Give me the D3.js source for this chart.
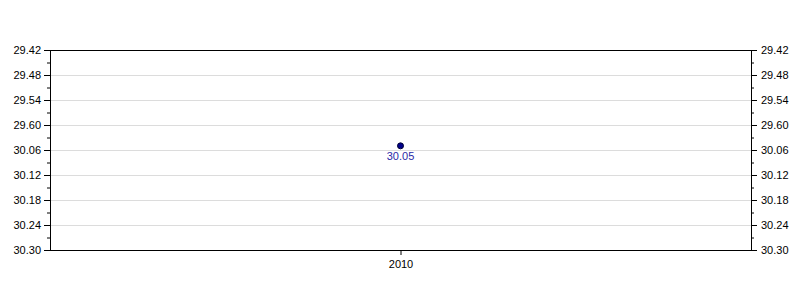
<!DOCTYPE html>
<html>
<head>
<meta charset="utf-8">
<script src="https://cdn.jsdelivr.net/npm/d3@7"></script>
<style>
  body { margin: 0; background: #fff; }
  text { font-family: "Liberation Sans", Arial, sans-serif; font-size: 11px; }
</style>
</head>
<body>
<svg id="chart"></svg>
<script>
const width = 800,
      height = 300;

// values are times in seconds, labelled as min.sec the way the source shows them
const years = ["2010"];
const times = [1805];
const pointLabels = ["30.05"];
const yTicks = [1782, 1788, 1794, 1800, 1806, 1812, 1818, 1824, 1830];
const yTickLabels = ["29.42", "29.48", "29.54", "29.60", "30.06", "30.12", "30.18", "30.24", "30.30"];

const margin = { top: 50, right: 49, bottom: 50, left: 50 };
const innerW = width - margin.left - margin.right,
      innerH = height - margin.top - margin.bottom;

const svg = d3.select("#chart")
  .attr("width", width)
  .attr("height", height);

const g = svg.append("g")
  .attr("transform", `translate(${margin.left},${margin.top})`);

const x = d3.scalePoint()
  .domain(years)
  .range([0, innerW])
  .padding(0.5);

const y = d3.scaleLinear()
  .domain([yTicks[0], yTicks[yTicks.length - 1]])
  .range([0, innerH]);

const minorTicks = d3.range(yTicks[0] + 3, yTicks[yTicks.length - 1], 6);
const labelOf = d => yTickLabels[yTicks.indexOf(d)];

// gridlines
g.append("g")
  .selectAll("line")
  .data(yTicks.slice(1, -1))
  .join("line")
  .attr("x1", 0)
  .attr("x2", innerW)
  .attr("y1", d => Math.round(y(d)) + 0.5)
  .attr("y2", d => Math.round(y(d)) + 0.5)
  .attr("stroke", "#dcdcdc");

// axes
function styleAxis(sel) {
  sel.select(".domain").remove();
  sel.selectAll("line").attr("stroke", "#000");
  sel.selectAll("text").attr("fill", "#000");
}

g.append("g")
  .call(d3.axisLeft(y).tickValues(yTicks).tickFormat(labelOf).tickSize(6).tickPadding(3))
  .call(styleAxis);
g.append("g")
  .call(d3.axisLeft(y).tickValues(minorTicks).tickFormat("").tickSize(3))
  .call(styleAxis);

g.append("g")
  .attr("transform", `translate(${innerW},0)`)
  .call(d3.axisRight(y).tickValues(yTicks).tickFormat(labelOf).tickSize(6).tickPadding(4))
  .call(styleAxis);
g.append("g")
  .attr("transform", `translate(${innerW},0)`)
  .call(d3.axisRight(y).tickValues(minorTicks).tickFormat("").tickSize(3))
  .call(styleAxis);

g.append("g")
  .attr("transform", `translate(0,${innerH})`)
  .call(d3.axisBottom(x).tickSize(5).tickPadding(5))
  .call(styleAxis);

// frame
g.append("rect")
  .attr("x", 0.5)
  .attr("y", 0.5)
  .attr("width", innerW)
  .attr("height", innerH)
  .attr("fill", "none")
  .attr("stroke", "#000");

// points
g.append("g")
  .selectAll("circle")
  .data(times)
  .join("circle")
  .attr("cx", (d, i) => x(years[i]))
  .attr("cy", d => y(d))
  .attr("r", 3)
  .attr("fill", "#00008b")
  .attr("stroke", "#000033")
  .attr("stroke-width", 1);

g.append("g")
  .selectAll("text")
  .data(times)
  .join("text")
  .attr("x", (d, i) => x(years[i]))
  .attr("y", d => y(d) + 14)
  .attr("text-anchor", "middle")
  .attr("fill", "#2a2aa8")
  .text((d, i) => pointLabels[i]);
</script>
</body>
</html>
